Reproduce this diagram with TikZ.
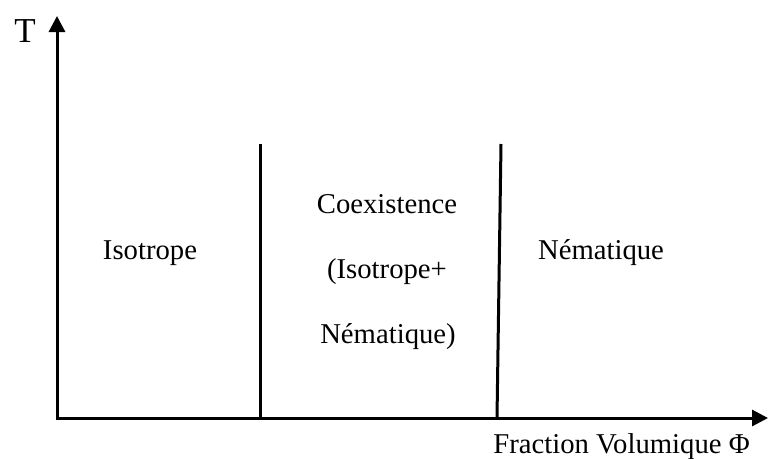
\documentclass[tikz,border=0pt]{standalone}
\usepackage{fontspec}
\setmainfont{Liberation Serif}
\usetikzlibrary{arrows.meta}
\begin{document}
\begin{tikzpicture}[x=1pt,y=-1pt,
  axis/.style={line width=3pt,line join=miter,-{Triangle[length=16pt,width=16pt]}},
  bar/.style={line width=3pt},
  lbl/.style={anchor=base,inner sep=0pt,font=\fontsize{28.7}{34}\selectfont}]
\useasboundingbox (0,0) rectangle (768,458);
\coordinate (o) at (57,418);
\coordinate (ytop) at (57,16);
\coordinate (xend) at (768,418);
\draw[axis] (o) -- (ytop);
\draw[axis] (55.5,418) -- (xend);
\coordinate (a1) at (260,144);
\coordinate (a2) at (260,418);
\coordinate (b1) at (501,144);
\coordinate (b2) at (497,418);
\draw[bar] (a1) -- (a2);
\draw[bar] (b1) -- (b2);
\node[lbl,font=\fontsize{35}{40}\selectfont] (T) at (25,42) {T};
\node[lbl] (iso) at (150,259) {Isotrope};
\node[lbl] (co1) at (387,213) {Coexistence};
\node[lbl] (co2) at (387,278) {(Isotrope+};
\node[lbl] (co3) at (388,343) {Nématique)};
\node[lbl] (nem) at (601,259) {Nématique};
\node[lbl] (fx) at (621.5,453) {Fraction Volumique Φ};
\end{tikzpicture}
\end{document}
